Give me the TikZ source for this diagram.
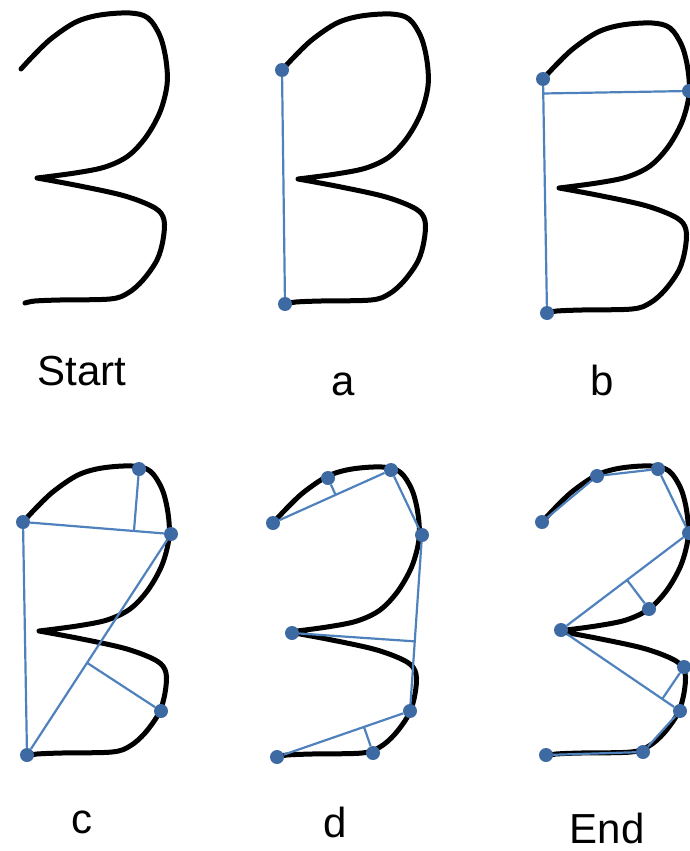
\documentclass[tikz,border=0pt]{standalone}
\usepackage{fontspec}
\setmainfont{Liberation Sans}
\usetikzlibrary{calc}
\definecolor{segblue}{RGB}{79,129,189}
\definecolor{dotblue}{RGB}{62,106,163}

\begin{document}
\begin{tikzpicture}[x=1pt,y=-1pt,
  lbl/.style={anchor=base,text depth=0pt,font=\fontsize{42}{48}\selectfont},
  pt/.style={circle,fill=dotblue,inner sep=0pt,minimum size=14pt},
  seg/.style={draw=segblue,line width=2.2pt},
  ink/.style={line width=5pt,line cap=round,line join=round}]
\useasboundingbox (0,0) rectangle (690,851);
% the hand-drawn stroke, once per panel
\foreach \dx/\dy in {0/0,261/1,522/10,2/453,252/454,521/453}
  \draw[ink,shift={(\dx,\dy)}]
    plot[smooth,tension=0.55] coordinates {(21,69) (35,54) (52,38) (76,22) (100,15) (130,13) (148,18) (160,36) (166,60) (167,85) (160,112) (146,137) (128,156) (105,167) (75,173) (37,178)}
    plot[smooth,tension=0.55] coordinates {(37,178) (80,186) (125,196) (155,208) (164,220) (163,240) (157,260) (143,280) (128,293) (110,299) (60,300) (35,301) (25,303)};
% kept points
\foreach \n/\x/\y in {a1/282/70,a2/285/304,
    b1/543/79,b2/689/91,b3/547/313,
    c1/23/522,c2/139/469,c3/171/534,c4/161/711,c5/27/755,
    d1/273/523,d2/328/478,d3/391/470,d4/422/535,d5/292/633,d6/410/711,d7/373/753,d8/277/757,
    e1/542/522,e2/597/476,e3/658/469,e4/689/533,e5/649/609,e6/561/630,e7/684/667,e8/680/711,e9/643/752,e10/546/755}
  \node[pt] (\n) at (\x,\y) {};
% feet of the perpendiculars
\coordinate (fb) at ($(b1)!(b2)!(b3)$);
\coordinate (fc1) at ($(c1)!(c2)!(c3)$);
\coordinate (fc2) at ($(c3)!(c4)!(c5)$);
\coordinate (fd1) at ($(d1)!(d2)!(d3)$);
\coordinate (fd2) at ($(d4)!(d5)!(d6)$);
\coordinate (fd3) at ($(d6)!(d7)!(d8)$);
\coordinate (fe1) at ($(e4)!(e5)!(e6)$);
\coordinate (fe2) at ($(e6)!(e7)!(e8)$);
\draw[seg] (a1) -- (a2);
\draw[seg] (b1) -- (b3) (b2) -- (fb);
\draw[seg] (c1) -- (c5) (c1) -- (c3) -- (c5) (c2) -- (fc1) (c4) -- (fc2);
\draw[seg] (d1) -- (d3) -- (d4) -- (d6) -- (d8) (d2) -- (fd1) (d5) -- (fd2) (d7) -- (fd3);
\draw[seg] (e1) -- (e2) -- (e3) -- (e4) -- (e6) -- (e8) -- (e9) -- (e10) (e5) -- (fe1) (e7) -- (fe2);
\node[lbl] (tstart) at (82,385) {Start};
\node[lbl] (ta) at (343,395) {a};
\node[lbl] (tb) at (602,395) {b};
\node[lbl] (tc) at (82,833) {c};
\node[lbl] (td) at (335,837) {d};
\node[lbl] (tend) at (607,843) {End};
\end{tikzpicture}
\end{document}
